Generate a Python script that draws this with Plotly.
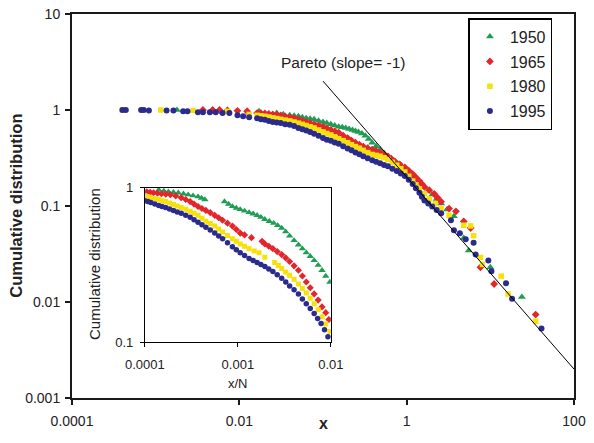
import plotly.graph_objects as go

# ---------------- data ----------------
years = ["1950", "1965", "1980", "1995"]
colors = ["#1f9d55", "#e3262b", "#f7e10a", "#2b2b8e"]
symbols = ["triangle-up", "diamond", "square", "circle"]

# main panel: cumulative distribution vs x
main_x_1950 = [0.0018, 0.0072, 0.0172, 0.028, 0.0335, 0.040, 0.0451, 0.0508, 0.0566, 0.063,
               0.0702, 0.0783, 0.0885, 0.100, 0.111, 0.124, 0.138, 0.154, 0.17, 0.187,
               0.205, 0.225, 0.244, 0.265, 0.292, 0.321, 0.352, 0.387, 0.431, 0.481,
               0.536, 0.597, 0.656, 0.72, 0.793, 0.873, 0.948, 1.03, 1.13, 1.24,
               1.42, 1.63, 1.81, 2.02, 2.28, 2.58, 3.03, 3.67, 4.81, 5.51,
               10.0, 23.8]
main_y_1950 = [1.0, 1.0, 0.97, 0.93, 0.905, 0.88, 0.87, 0.86, 0.84, 0.82,
               0.81, 0.80, 0.775, 0.75, 0.73, 0.71, 0.69, 0.67, 0.66, 0.65,
               0.635, 0.62, 0.605, 0.59, 0.57, 0.539, 0.50, 0.457, 0.42, 0.387,
               0.357, 0.329, 0.31, 0.292, 0.272, 0.253, 0.234, 0.215, 0.20, 0.187,
               0.172, 0.158, 0.144, 0.131, 0.118, 0.106, 0.092, 0.078, 0.0465, 0.0343,
               0.0230, 0.0113]

main_x_1965 = [0.00367, 0.0048, 0.0058, 0.0072, 0.0095, 0.0124, 0.0163, 0.0181, 0.0202, 0.0225,
               0.0251, 0.028, 0.0312, 0.0353, 0.040, 0.0451, 0.0508, 0.0566, 0.063, 0.0702,
               0.0783, 0.0885, 0.100, 0.111, 0.124, 0.138, 0.154, 0.174, 0.197, 0.219,
               0.244, 0.272, 0.303, 0.342, 0.387, 0.431, 0.481, 0.536, 0.597, 0.656,
               0.72, 0.827, 0.95, 1.06, 1.18, 1.29, 1.42, 1.52, 1.63, 1.86,
               2.13, 2.34, 2.58, 3.21, 3.88, 4.81, 5.82, 7.63, 11.1, 34.8]
main_y_1965 = [1.0, 1.0, 1.0, 0.99, 0.98, 0.97, 0.93, 0.925, 0.92, 0.91,
               0.90, 0.89, 0.88, 0.86, 0.84, 0.82, 0.80, 0.775, 0.75, 0.73,
               0.71, 0.69, 0.67, 0.645, 0.62, 0.60, 0.58, 0.54, 0.51, 0.48,
               0.457, 0.435, 0.416, 0.40, 0.387, 0.375, 0.361, 0.345, 0.329, 0.31,
               0.292, 0.272, 0.253, 0.233, 0.215, 0.198, 0.182, 0.17, 0.158, 0.146,
               0.134, 0.122, 0.111, 0.094, 0.088, 0.069, 0.059, 0.023, 0.0154, 0.0074]

main_x_1980 = [0.0004, 0.00115, 0.0028, 0.0072, 0.0131, 0.0163, 0.0181, 0.0202, 0.0225, 0.0251,
               0.028, 0.0312, 0.0353, 0.040, 0.0451, 0.0508, 0.0566, 0.063, 0.0702, 0.0783,
               0.0885, 0.100, 0.111, 0.124, 0.138, 0.154, 0.174, 0.197, 0.219, 0.244,
               0.272, 0.303, 0.342, 0.387, 0.431, 0.481, 0.536, 0.597, 0.674, 0.762,
               0.851, 0.95, 1.06, 1.18, 1.29, 1.42, 1.63, 1.87, 2.2, 2.58,
               3.21, 4.81, 5.82, 6.31, 7.63, 8.05, 13.5, 16.3, 34.8]
main_y_1980 = [1.0, 1.0, 0.99, 0.97, 0.90, 0.88, 0.87, 0.86, 0.845, 0.83,
               0.815, 0.80, 0.785, 0.77, 0.75, 0.73, 0.71, 0.69, 0.67, 0.65,
               0.62, 0.59, 0.57, 0.55, 0.525, 0.502, 0.48, 0.457, 0.435, 0.416,
               0.40, 0.38, 0.36, 0.344, 0.337, 0.33, 0.318, 0.306, 0.285, 0.266,
               0.245, 0.226, 0.204, 0.182, 0.166, 0.151, 0.134, 0.119, 0.106, 0.094,
               0.080, 0.063, 0.062, 0.049, 0.0291, 0.0246, 0.0186, 0.0121, 0.0063]

main_x_1995 = [0.0004, 0.00044, 0.00067, 0.00072, 0.00083, 0.00135, 0.00163, 0.00213, 0.0024, 0.0032,
               0.00367, 0.00444, 0.00523, 0.0063, 0.0076, 0.0095, 0.0111, 0.0131, 0.0163, 0.0181,
               0.0202, 0.0225, 0.0251, 0.028, 0.0312, 0.0353, 0.040, 0.0451, 0.0508, 0.0566,
               0.063, 0.0702, 0.0783, 0.0885, 0.100, 0.111, 0.124, 0.138, 0.154, 0.174,
               0.197, 0.219, 0.244, 0.272, 0.303, 0.342, 0.387, 0.431, 0.481, 0.536,
               0.597, 0.674, 0.762, 0.851, 0.95, 1.06, 1.18, 1.29, 1.42, 1.52,
               1.63, 1.81, 2.02, 2.28, 2.58, 3.38, 3.67, 4.32, 5.08, 6.31,
               6.67, 9.47, 10.3, 15.4, 18.2, 40.9]
main_y_1995 = [1.0, 1.0, 1.0, 1.0, 0.99, 0.99, 0.99, 0.97, 0.97, 0.95,
               0.95, 0.95, 0.95, 0.93, 0.93, 0.88, 0.86, 0.84, 0.82, 0.80,
               0.79, 0.77, 0.75, 0.74, 0.73, 0.71, 0.70, 0.68, 0.65, 0.63,
               0.61, 0.59, 0.565, 0.54, 0.51, 0.49, 0.479, 0.46, 0.446, 0.42,
               0.396, 0.38, 0.361, 0.345, 0.329, 0.315, 0.299, 0.289, 0.279, 0.268,
               0.259, 0.245, 0.231, 0.218, 0.205, 0.188, 0.170, 0.153, 0.137, 0.125,
               0.114, 0.106, 0.099, 0.091, 0.084, 0.071, 0.056, 0.052, 0.045, 0.0413,
               0.0312, 0.0271, 0.0209, 0.0157, 0.0108, 0.0053]

# inset: cumulative distribution vs x/N
inset_x_1950 = [0.000141, 0.00016, 0.000179, 0.000203, 0.000229, 0.00026, 0.000292, 0.00033, 0.000373, 0.000407,
                0.000442, 0.000719, 0.000795, 0.000874, 0.000962, 0.00106, 0.00118, 0.00132, 0.00146, 0.00161,
                0.00177, 0.00195, 0.00218, 0.00243, 0.00268, 0.00296, 0.00327, 0.00360, 0.00402, 0.00448,
                0.00494, 0.00544, 0.006, 0.00661, 0.0073, 0.00803, 0.0088, 0.00975]
inset_y_1950 = [0.971, 0.955, 0.943, 0.935, 0.929, 0.915, 0.903, 0.89, 0.876, 0.858,
                0.839, 0.814, 0.785, 0.757, 0.74, 0.724, 0.708, 0.693, 0.678, 0.663,
                0.645, 0.625, 0.607, 0.590, 0.57, 0.548, 0.52, 0.488, 0.456, 0.427,
                0.403, 0.380, 0.36, 0.338, 0.315, 0.292, 0.268, 0.245]

inset_x_1965 = [0.000105, 0.000114, 0.000124, 0.000137, 0.000151, 0.000168, 0.000188, 0.000215, 0.000246, 0.000275,
                0.000307, 0.000338, 0.000373, 0.000411, 0.000453, 0.000505, 0.000564, 0.000622, 0.000685, 0.000774,
                0.000874, 0.000962, 0.00106, 0.00118, 0.0014, 0.00182, 0.00195, 0.00215, 0.00238, 0.00265,
                0.00296, 0.00327, 0.00360, 0.00402, 0.00448, 0.00494, 0.00544, 0.006, 0.00661, 0.0073,
                0.00803, 0.0088, 0.00952]
inset_y_1965 = [0.943, 0.936, 0.929, 0.922, 0.916, 0.91, 0.903, 0.885, 0.864, 0.84,
                0.814, 0.785, 0.757, 0.735, 0.714, 0.69, 0.663, 0.64, 0.616, 0.59,
                0.565, 0.537, 0.509, 0.495, 0.475, 0.45, 0.433, 0.418, 0.403, 0.386,
                0.369, 0.351, 0.333, 0.312, 0.292, 0.268, 0.245, 0.225, 0.205, 0.187,
                0.169, 0.155, 0.140]

inset_x_1980 = [0.0001, 0.000108, 0.000116, 0.000128, 0.000141, 0.000153, 0.000167, 0.000184, 0.000203, 0.000223,
                0.000246, 0.000275, 0.000307, 0.000338, 0.000373, 0.000411, 0.000453, 0.000505, 0.000564, 0.000622,
                0.000685, 0.000774, 0.000874, 0.000962, 0.00106, 0.00118, 0.00132, 0.0015, 0.00169, 0.00195,
                0.00249, 0.00272, 0.00296, 0.00327, 0.00360, 0.00402, 0.00448, 0.00494, 0.00544, 0.006,
                0.00661, 0.0073, 0.00803, 0.0088, 0.00975]
inset_y_1980 = [0.889, 0.876, 0.864, 0.851, 0.839, 0.826, 0.814, 0.797, 0.779, 0.762,
                0.746, 0.725, 0.704, 0.683, 0.663, 0.635, 0.607, 0.586, 0.565, 0.541,
                0.517, 0.49, 0.467, 0.45, 0.433, 0.418, 0.403, 0.39, 0.380, 0.355,
                0.328, 0.313, 0.300, 0.285, 0.271, 0.255, 0.238, 0.222, 0.208, 0.192,
                0.177, 0.162, 0.146, 0.131, 0.117]

inset_x_1995 = [0.0001, 0.000108, 0.000116, 0.000128, 0.000141, 0.000153, 0.000167, 0.000184, 0.000203, 0.000223,
                0.000246, 0.000275, 0.000307, 0.000338, 0.000373, 0.000411, 0.000453, 0.000505, 0.000564, 0.000622,
                0.000685, 0.000774, 0.000874, 0.000962, 0.00106, 0.00118, 0.00132, 0.00146, 0.00161, 0.00177,
                0.00195, 0.00215, 0.00238, 0.00265, 0.00296, 0.00327, 0.00360, 0.00402, 0.00448, 0.00494,
                0.00544, 0.006, 0.00661, 0.0072, 0.00784, 0.00854, 0.00930]
inset_y_1995 = [0.826, 0.815, 0.803, 0.785, 0.768, 0.757, 0.746, 0.73, 0.714, 0.698,
                0.683, 0.664, 0.644, 0.62, 0.598, 0.577, 0.556, 0.532, 0.509, 0.488,
                0.467, 0.44, 0.415, 0.397, 0.380, 0.364, 0.348, 0.338, 0.328, 0.318,
                0.309, 0.298, 0.287, 0.273, 0.259, 0.245, 0.231, 0.218, 0.205, 0.19,
                0.177, 0.165, 0.153, 0.142, 0.132, 0.12, 0.108]

# Pareto reference line (slope -1)
pareto_x = [0.1, 100]
pareto_y = [2, 0.002]

main_x_ticks = [0.0001, 0.01, 1, 100]
main_x_text = ["0.0001", "0.01", "1", "100"]
main_y_ticks = [0.001, 0.01, 0.1, 1, 10]
main_y_text = ["0.001", "0.01", "0.1", "1", "10"]
inset_x_ticks = [0.0001, 0.001, 0.01]
inset_x_text = ["0.0001", "0.001", "0.01"]
inset_y_ticks = [0.1, 1]
inset_y_text = ["0.1", "1"]

main_x = [main_x_1950, main_x_1965, main_x_1980, main_x_1995]
main_y = [main_y_1950, main_y_1965, main_y_1980, main_y_1995]
inset_x = [inset_x_1950, inset_x_1965, inset_x_1980, inset_x_1995]
inset_y = [inset_y_1950, inset_y_1965, inset_y_1980, inset_y_1995]

FONT = "Liberation Sans, Arial, sans-serif"
TXT = "#222222"
main_sizes = [7, 6, 5.5, 6]
inset_sizes = [6.5, 5.5, 5, 5.5]

fig = go.Figure()
for i, yr in enumerate(years):
    fig.add_trace(go.Scatter(
        x=main_x[i], y=main_y[i], mode="markers", name=yr,
        legendgroup=yr,
        marker=dict(symbol=symbols[i], color=colors[i], size=main_sizes[i], line=dict(width=0)),
        xaxis="x", yaxis="y"))
for i, yr in enumerate(years):
    fig.add_trace(go.Scatter(
        x=inset_x[i], y=inset_y[i], mode="markers", name=yr, showlegend=False,
        legendgroup=yr,
        marker=dict(symbol=symbols[i], color=colors[i], size=inset_sizes[i], line=dict(width=0)),
        xaxis="x2", yaxis="y2"))
fig.add_trace(go.Scatter(x=pareto_x, y=pareto_y, mode="lines", showlegend=False,
                         line=dict(color="black", width=1), xaxis="x", yaxis="y"))

fig.update_layout(
    width=594, height=443,
    margin=dict(l=72, r=12, t=7, b=45),
    paper_bgcolor="white", plot_bgcolor="white",
    font=dict(family=FONT, color=TXT, size=14),
    xaxis=dict(type="log", range=[-4, 2], domain=[0, 1],
               tickvals=main_x_ticks, ticktext=main_x_text,
               showgrid=False, zeroline=False, showline=True, mirror=True,
               linecolor="#1a1a1a", linewidth=2, ticks="outside", ticklen=5,
               tickwidth=2, tickcolor="#1a1a1a", tickfont=dict(size=14),
               ticklabelstandoff=4),
    yaxis=dict(type="log", range=[-3, 1], domain=[0, 1],
               tickvals=main_y_ticks, ticktext=main_y_text,
               showgrid=False, zeroline=False, showline=True, mirror=True,
               linecolor="#1a1a1a", linewidth=2, ticks="outside", ticklen=5,
               tickwidth=2, tickcolor="#1a1a1a", tickfont=dict(size=14),
               ticklabelstandoff=2),
    xaxis2=dict(type="log", range=[-4, -2], domain=[0.1451, 0.5157], anchor="y2",
                tickvals=inset_x_ticks, ticktext=inset_x_text,
                showgrid=False, zeroline=False, showline=True, mirror=True,
                linecolor="black", linewidth=1, ticks="outside", ticklen=4,
                tickcolor="black", tickfont=dict(size=13), ticklabelstandoff=6),
    yaxis2=dict(type="log", range=[-1, 0], domain=[0.1458, 0.5473], anchor="x2",
                tickvals=inset_y_ticks, ticktext=inset_y_text,
                showgrid=False, zeroline=False, showline=True, mirror=True,
                linecolor="black", linewidth=1, ticks="outside", ticklen=4,
                tickcolor="black", tickfont=dict(size=13), ticklabelstandoff=4),
    legend=dict(x=0.957, y=0.989, xanchor="right", yanchor="top",
                bgcolor="white", bordercolor="black", borderwidth=1.5,
                font=dict(size=16, color=TXT), tracegroupgap=1,
                itemwidth=30),
    annotations=[
        dict(text="Pareto (slope= -1)", x=-0.75, y=0.49, xref="x", yref="y",
             xanchor="center", yanchor="middle",
             showarrow=False, font=dict(size=15.5, color=TXT)),
        dict(text="x", x=0.5, y=-0.066, xref="paper", yref="paper",
             xanchor="center", yanchor="middle",
             showarrow=False, font=dict(size=16, color=TXT, weight="bold")),
        dict(text="Cumulative distribution", x=-0.112, y=0.5, xref="paper", yref="paper",
             xanchor="center", yanchor="middle",
             textangle=-90, showarrow=False, font=dict(size=16.5, color=TXT, weight="bold")),
        dict(text="Cumulative distribution", x=0.045, y=0.348, xref="paper", yref="paper",
             xanchor="center", yanchor="middle",
             textangle=-90, showarrow=False, font=dict(size=15, color=TXT)),
        dict(text="x/N", x=0.331, y=0.038, xref="paper", yref="paper",
             xanchor="center", yanchor="middle",
             showarrow=False, font=dict(size=13, color=TXT)),
    ],
)

fig.write_html("out.html", config={"displayModeBar": False},
               post_script="document.body.style.margin='0';")
